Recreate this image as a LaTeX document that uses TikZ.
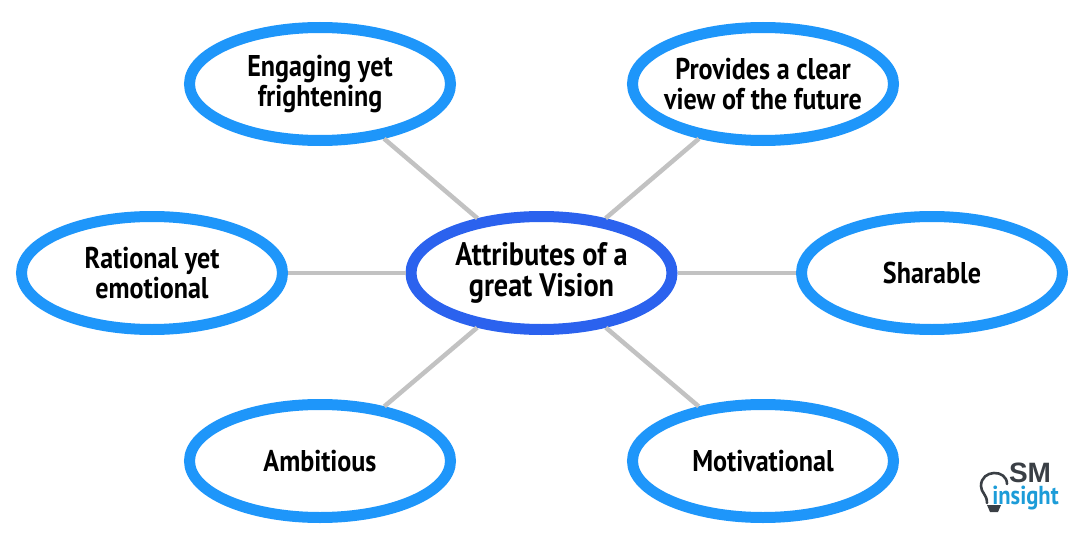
\documentclass[tikz,border=0pt]{standalone}
\usepackage{fontspec}
\setmainfont[FakeStretch=0.87]{PT Sans}
\newfontfamily\logofont{Liberation Sans}
\usetikzlibrary{shapes.geometric}
\definecolor{hubblue}{HTML}{2B62EE}
\definecolor{petalblue}{HTML}{1E96FA}
\definecolor{spokegray}{HTML}{C2C2C2}
\definecolor{logodark}{HTML}{3A3F45}
\definecolor{logoblue}{HTML}{1C9CD8}

\begin{document}
\begin{tikzpicture}[x=1pt,y=-1pt,
                    attribute/.style={ellipse,draw=petalblue,line width=11pt,fill=white,
                      minimum width=261pt,minimum height=113pt,inner sep=-20pt,outer sep=5.5pt,
                      align=center,font=\fontsize{30}{30.5}\selectfont\bfseries},
                    hub/.style={attribute,draw=hubblue,font=\fontsize{32.5}{31.5}\selectfont\bfseries},
                    spoke/.style={spokegray,line width=4.5pt}]

  \useasboundingbox (0,0) rectangle (1080,535);

  \node[hub]       (V) at (541.5,273) {Attributes of a\\great Vision};
  \node[attribute] (E) at (320,84)    {Engaging yet\\frightening};
  \node[attribute] (P) at (763,84)    {Provides a clear\\view of the future};
  \node[attribute] (R) at (152,273)   {Rational yet\\emotional};
  \node[attribute] (S) at (932,273)   {Sharable};
  \node[attribute] (A) at (320,461)   {Ambitious};
  \node[attribute] (M) at (763,461)   {Motivational};

  \draw[spoke] (V) -- (E);
  \draw[spoke] (V) -- (P);
  \draw[spoke] (V) -- (R);
  \draw[spoke] (V) -- (S);
  \draw[spoke] (V) -- (A);
  \draw[spoke] (V) -- (M);

  % logo
  \draw[logodark,line width=2.6pt,line cap=round]
    (987,503) .. controls (987,494) and (981,493) .. (981,486)
    .. controls (981,469) and (1007,469) .. (1007,484);
  \fill[logodark] (987,505) -- (1001,505) -- (998,512) -- (990,512) -- cycle;
  \node[inner sep=0pt,anchor=base,text=logodark,font=\logofont\fontsize{28}{28}\selectfont\bfseries] (L1) at (1030,482) {SM};
  \node[inner sep=0pt,anchor=base,text=logoblue,font=\fontsize{26}{26}\selectfont\bfseries] (L2) at (1025.5,504) {insight};

\end{tikzpicture}
\end{document}
